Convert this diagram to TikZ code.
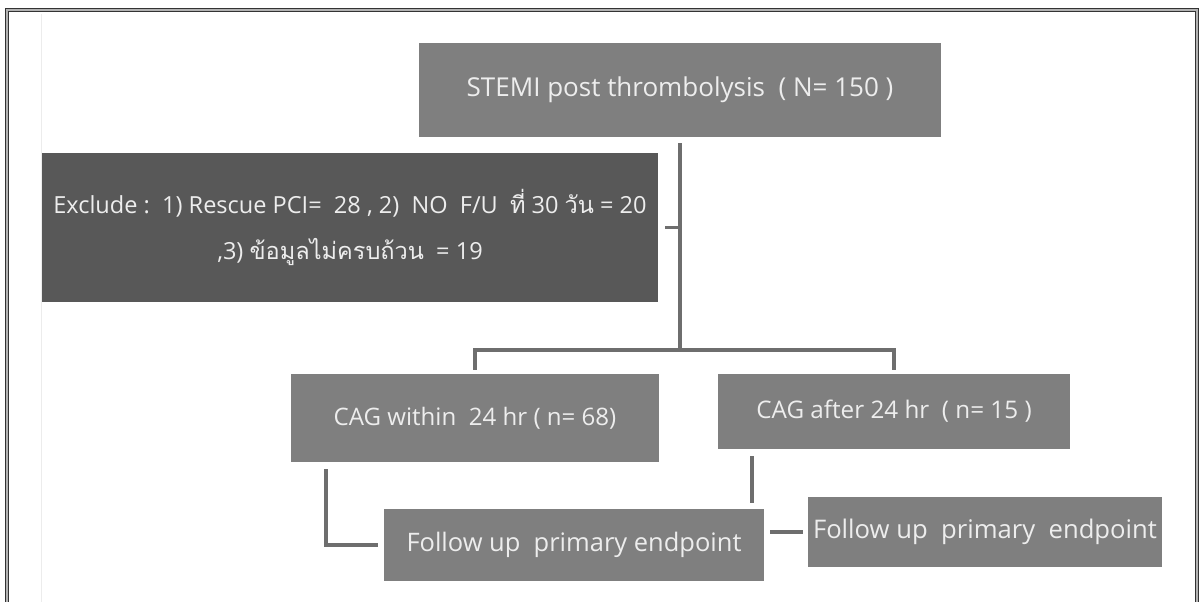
\documentclass[tikz,border=0pt]{standalone}
\usepackage{fontspec}
\setmainfont{Open Sans}
\newfontfamily\thaifont[Script=Thai]{Loma}
\usepackage{tikz}

\begin{document}
\begin{tikzpicture}[x = 0.02cm, y = -0.02cm,
  box/.style = {fill = boxgray, text = boxtext, inner sep = 0pt, align = center, font = \fontsize{13.8}{16}\selectfont},
  link/.style = {draw = linkgray, line width = 2.2pt, line join = miter},
  frame/.style = {draw = black!80, line width = 0.6pt, double = gray!60, double distance = 0.6pt}]
\definecolor{boxgray}{HTML}{7F7F7F}
\definecolor{darkgray}{HTML}{585858}
\definecolor{boxtext}{HTML}{EDEDED}
\definecolor{linkgray}{HTML}{6E6E6E}
\useasboundingbox (0, 0) rectangle (1201, 602);
\draw[frame] (7, 602) -- (7, 10) -- (1197, 10) -- (1197, 602);
\draw[gray!15, line width = 0.5pt] (41, 14) -- (41, 602);
\node[box, minimum width = 10.44cm, minimum height = 1.88cm, font = \fontsize{14.8}{17}\selectfont] (stemi) at (680, 90) {STEMI post thrombolysis \ ( N= 150 )};
\node[box, fill = darkgray, minimum width = 12.32cm, minimum height = 2.98cm, font = \fontsize{13.4}{26.5}\selectfont] (excl) at (350, 227.5)
  {Exclude :\ \ 1) Rescue PCI=\ \ 28 , 2)\ \ NO\ \ F/U\ \ {\thaifont ที่} 30 {\thaifont วัน} = 20\\ ,3) {\thaifont ข้อมูลไม่ครบถ้วน}\ \ = 19};
\node[box, minimum width = 7.36cm, minimum height = 1.76cm, font = \fontsize{13.7}{16}\selectfont] (within) at (475, 418) {CAG within\ \ 24 hr ( n= 68)};
\node[box, minimum width = 7.04cm, minimum height = 1.5cm] (after) at (894, 411.5) {CAG after 24 hr\ \ ( n= 15 )};
\node[box, minimum width = 7.6cm, minimum height = 1.44cm, font = \fontsize{14.5}{17}\selectfont] (fu1) at (574, 545) {Follow up\ \ primary endpoint};
\node[box, minimum width = 7.08cm, minimum height = 1.4cm, font = \fontsize{14.6}{17}\selectfont] (fu2) at (985, 532) {Follow up\ \ primary\ \ endpoint};
\coordinate (trunk) at (680, 350);
\draw[link, shorten <= 1.2mm] (stemi.south) -- (trunk);
\draw[link, shorten <= 1.4mm] (excl.east) -- (excl.east -| trunk);
\draw[link, shorten <= 0.8mm, shorten >= 0.8mm] (within.north) |- (trunk) -| (after.north);
\draw[link, shorten <= 1.4mm, shorten >= 1.2mm] ([xshift = 0.7cm]within.south west) |- (fu1.west);
\draw[link, shorten <= 1.4mm, shorten >= 1.2mm] ([xshift = 0.68cm]after.south west) -- ([xshift = 0.68cm]after.south west |- fu1.north);
\draw[link, shorten <= 1.2mm, shorten >= 1mm] (fu1.east |- fu2.west) -- (fu2.west);
\end{tikzpicture}
\end{document}
